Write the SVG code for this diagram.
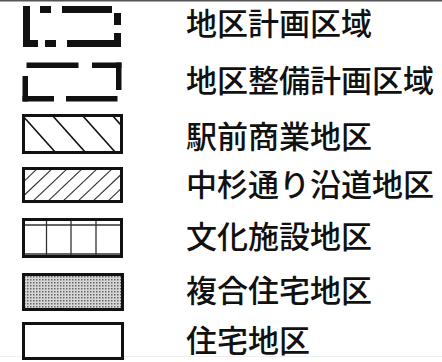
<svg xmlns="http://www.w3.org/2000/svg" width="442" height="362" viewBox="0 0 442 362">
<style>
  .lbl { font-family: "Noto Sans CJK JP", "Noto Sans", sans-serif; font-size: 31px; font-weight: 500; fill: #111; }
  .box { fill: #fff; stroke: #111; stroke-width: 3; }
  .blk { fill: #111; }
  .hatch { stroke: #111; stroke-width: 1.6; fill: none; }
  .hatch2 { stroke: #333; stroke-width: 1.1; fill: none; }
  .grid { stroke: #333; stroke-width: 1.3; fill: none; }
</style>
<defs>
  <pattern id="dots" x="0" y="0" width="3" height="3" patternUnits="userSpaceOnUse">
    <rect width="3" height="3" fill="#d6d6d6"/>
    <rect x="0" y="0" width="1.5" height="1.5" fill="#666"/>
  </pattern>
  <clipPath id="c3"><rect x="23.5" y="115.5" width="98" height="37"/></clipPath>
  <clipPath id="c4"><rect x="23.5" y="168.5" width="98" height="33"/></clipPath>
</defs>
<rect width="442" height="362" fill="#fff"/>
<line x1="0" y1="0.75" x2="442" y2="0.75" stroke="#555" stroke-width="1.5"/>
<line x1="0" y1="356.5" x2="442" y2="356.5" stroke="#eeeeee" stroke-width="1"/>

<g id="item-chikukeikaku">
  <rect class="blk" x="23" y="6" width="7" height="41"/>
  <rect class="blk" x="23" y="40" width="15" height="7"/>
  <rect class="blk" x="40" y="6" width="11" height="7"/>
  <rect class="blk" x="62" y="6" width="50" height="7"/>
  <rect class="blk" x="114" y="13" width="7" height="12"/>
  <rect class="blk" x="114" y="33" width="7" height="14"/>
  <rect class="blk" x="45" y="40" width="11" height="7"/>
  <rect class="blk" x="67" y="40" width="54" height="7"/>
  <text class="lbl" x="186" y="35">地区計画区域</text>
</g>

<g id="item-chikuseibi">
  <rect class="blk" x="26.5" y="62.5" width="52" height="5.5"/>
  <rect class="blk" x="92" y="62.5" width="29.5" height="5.5"/>
  <rect class="blk" x="116" y="62.5" width="5.5" height="27.5"/>
  <rect class="blk" x="22.5" y="76" width="5.5" height="25.5"/>
  <rect class="blk" x="22.5" y="96" width="31.5" height="5.5"/>
  <rect class="blk" x="66" y="96" width="51.5" height="5.5"/>
  <text class="lbl" x="186" y="92">地区整備計画区域</text>
</g>

<g id="item-ekimae">
  <rect class="box" x="23.5" y="115.5" width="98" height="37"/>
  <g clip-path="url(#c3)">
    <line class="hatch" x1="22" y1="115" x2="56" y2="153"/>
    <line class="hatch" x1="52" y1="115" x2="86" y2="153"/>
    <line class="hatch" x1="82" y1="115" x2="116" y2="153"/>
    <line class="hatch" x1="112" y1="115" x2="146" y2="153"/>
  </g>
  <rect x="23.5" y="115.5" width="98" height="37" fill="none" stroke="#111" stroke-width="3"/>
  <text class="lbl" x="186" y="148">駅前商業地区</text>
</g>

<g id="item-nakasugi">
  <rect class="box" x="23.5" y="168.5" width="98" height="33"/>
  <g clip-path="url(#c4)">
    <line class="hatch2" x1="-14" y1="203" x2="24" y2="167"/>
    <line class="hatch2" x1="1" y1="203" x2="39" y2="167"/>
    <line class="hatch2" x1="16" y1="203" x2="54" y2="167"/>
    <line class="hatch2" x1="31" y1="203" x2="69" y2="167"/>
    <line class="hatch2" x1="46" y1="203" x2="84" y2="167"/>
    <line class="hatch2" x1="61" y1="203" x2="99" y2="167"/>
    <line class="hatch2" x1="76" y1="203" x2="114" y2="167"/>
    <line class="hatch2" x1="91" y1="203" x2="129" y2="167"/>
    <line class="hatch2" x1="106" y1="203" x2="144" y2="167"/>
  </g>
  <rect x="23.5" y="168.5" width="98" height="33" fill="none" stroke="#111" stroke-width="3"/>
  <text class="lbl" x="186" y="196">中杉通り沿道地区</text>
</g>

<g id="item-bunka">
  <rect class="box" x="23.5" y="219.5" width="98" height="37"/>
  <line class="grid" x1="24" y1="225" x2="121" y2="225"/>
  <line class="grid" x1="24" y1="254" x2="121" y2="254" stroke="#888"/>
  <line class="grid" x1="46.5" y1="220" x2="46.5" y2="256"/>
  <line class="grid" x1="71" y1="220" x2="71" y2="256"/>
  <line class="grid" x1="96" y1="220" x2="96" y2="256"/>
  <rect x="23.5" y="219.5" width="98" height="37" fill="none" stroke="#111" stroke-width="3"/>
  <text class="lbl" x="186" y="248">文化施設地区</text>
</g>

<g id="item-fukugo">
  <rect x="23.5" y="274.5" width="99" height="35" fill="url(#dots)" stroke="#111" stroke-width="3"/>
  <text class="lbl" x="186" y="302">複合住宅地区</text>
</g>

<g id="item-jutaku">
  <rect class="box" x="23.5" y="323.5" width="99" height="35"/>
  <text class="lbl" x="186" y="352">住宅地区</text>
</g>
</svg>
